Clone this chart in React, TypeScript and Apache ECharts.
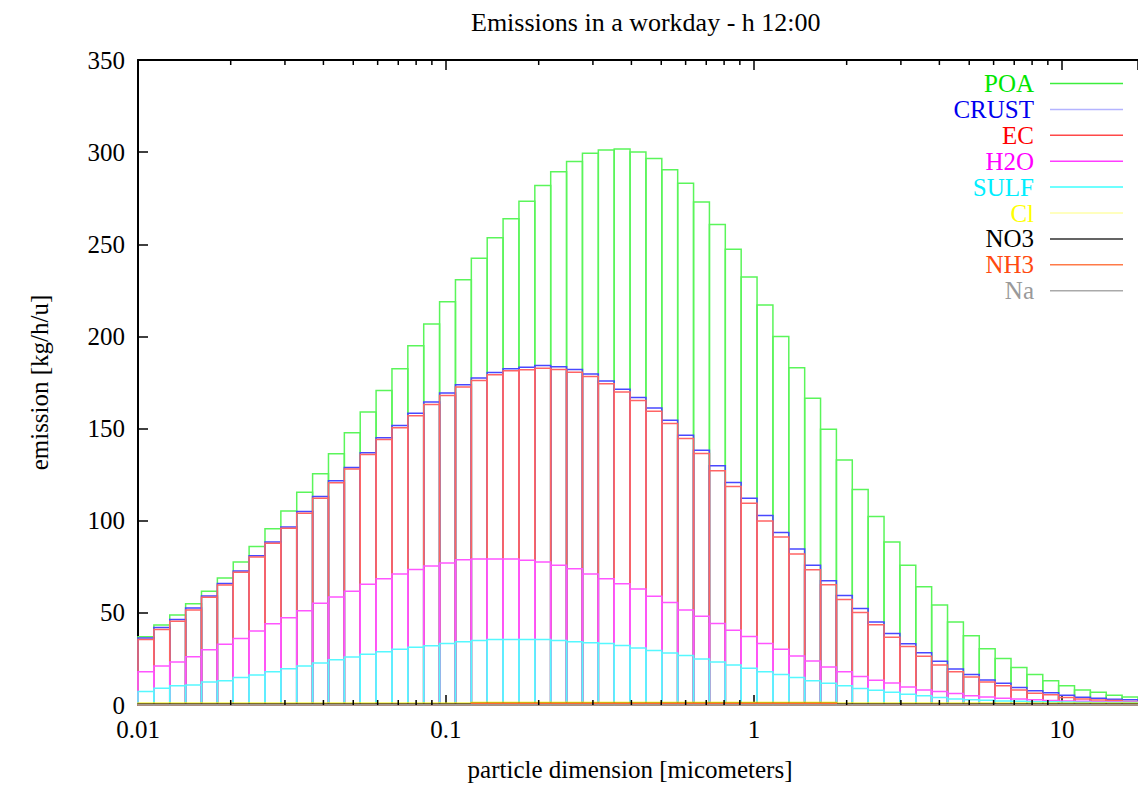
import React, { useEffect, useRef } from "react";
import * as echarts from "echarts";

// ---- axis / bins ----
const X_MIN = 0.01;
const X_MAX = 17.66;
const BIN_COUNT = 63;
const X_TICK_LABELS = ["0.01", "0.1", "1", "10"];
const Y_MIN = 0;
const Y_MAX = 350;
const Y_INTERVAL = 50;

// ---- cumulative levels (kg/h/u), one per bin ----
const POA = [
  37.0, 43.4, 48.8, 55.0, 61.7, 68.9, 77.6, 86.0, 95.6, 105.3,
  115.4, 125.5, 136.3, 147.7, 159.0, 170.7, 182.4, 195.0, 206.8, 218.8,
  230.7, 242.4, 253.6, 263.9, 273.4, 281.9, 289.3, 294.9, 299.4, 301.2,
  301.7, 300.1, 296.6, 290.5, 283.1, 272.9, 260.8, 247.3, 232.3, 217.0,
  199.9, 183.0, 166.5, 149.6, 132.9, 117.0, 102.3, 88.4, 75.9, 64.2,
  54.3, 45.1, 37.6, 30.5, 25.3, 20.4, 16.5, 13.1, 10.4, 8.2,
  6.9, 5.3, 4.4,
];
const CRUST = [
  36.3, 42.1, 46.4, 52.6, 59.2, 65.9, 72.7, 81.0, 88.5, 96.6,
  105.0, 113.1, 121.7, 128.9, 136.9, 145.0, 151.6, 158.3, 164.4, 169.3,
  173.8, 177.4, 180.4, 182.4, 183.3, 184.2, 183.5, 182.0, 179.6, 175.8,
  171.3, 166.9, 161.2, 154.5, 146.4, 138.3, 129.8, 120.8, 112.2, 102.8,
  93.6, 84.6, 75.8, 67.4, 59.4, 52.3, 45.1, 38.8, 33.2, 28.4,
  23.7, 19.6, 16.6, 13.6, 11.8, 9.5, 7.7, 6.6, 5.3, 4.2,
  3.7, 3.1, 2.8,
];
const EC = [
  35.6, 41.0, 45.5, 51.6, 58.5, 65.1, 72.0, 80.3, 87.8, 95.9,
  104.1, 112.2, 120.6, 128.0, 135.9, 144.1, 150.5, 156.9, 163.0, 168.0,
  172.5, 176.1, 179.2, 181.4, 181.9, 182.8, 182.1, 180.6, 178.3, 174.3,
  169.8, 165.3, 159.4, 152.7, 144.6, 136.5, 127.1, 118.5, 109.5, 99.9,
  91.1, 81.9, 73.4, 65.3, 57.2, 50.2, 43.5, 36.7, 31.8, 26.4,
  21.7, 18.1, 15.2, 12.5, 10.4, 8.2, 6.4, 5.5, 4.1, 3.2,
  2.7, 2.4, 1.9,
];
const H2O = [
  18.1, 21.2, 23.3, 26.2, 30.0, 32.9, 36.1, 40.1, 44.1, 47.3,
  51.2, 55.2, 58.6, 61.7, 65.5, 68.5, 71.1, 73.5, 75.4, 77.0,
  78.8, 79.2, 79.2, 79.2, 78.6, 77.6, 75.9, 73.9, 71.1, 68.5,
  65.8, 63.0, 59.0, 55.6, 51.6, 48.2, 44.2, 40.6, 37.2, 33.4,
  30.2, 26.6, 23.9, 20.6, 18.1, 15.4, 13.4, 12.0, 9.8, 8.2,
  7.3, 6.2, 5.0, 4.4, 3.7, 3.3, 2.9, 2.5, 2.2, 2.0,
  1.8, 1.7, 1.6,
];
const SULF = [
  7.3, 9.1, 10.4, 10.9, 12.5, 13.1, 14.9, 16.3, 18.1, 19.7,
  21.2, 22.8, 24.6, 26.1, 27.5, 28.9, 30.2, 31.3, 32.2, 33.4,
  34.3, 35.0, 35.6, 35.6, 35.6, 35.6, 35.0, 34.3, 33.8, 33.4,
  32.3, 30.9, 29.6, 28.2, 26.8, 25.0, 23.4, 21.7, 19.9, 18.1,
  16.6, 14.9, 13.1, 11.8, 10.4, 8.9, 8.0, 6.9, 5.8, 5.0,
  4.1, 3.3, 2.9, 2.6, 2.2, 2.0, 1.8, 1.7, 1.6, 1.5,
  1.4, 1.3, 1.3,
];
const CL = [
  1.0, 1.0, 1.0, 1.0, 1.0, 1.0, 1.0, 1.0, 1.0, 1.0,
  1.0, 1.0, 1.0, 1.0, 1.0, 1.0, 1.0, 1.0, 1.0, 1.0,
  1.0, 1.3, 1.3, 1.3, 1.3, 1.3, 1.3, 1.3, 1.3, 1.3,
  1.3, 1.3, 1.3, 1.3, 1.3, 1.3, 1.3, 1.3, 1.3, 1.3,
  1.3, 1.3, 1.3, 1.3, 0.9, 0.9, 0.9, 0.9, 0.9, 0.9,
  0.9, 0.9, 0.9, 0.9, 0.9, 0.9, 0.9, 0.9, 0.9, 0.9,
  0.9, 0.9, 0.9,
];
const NO3 = [
  0.5, 0.5, 0.5, 0.5, 0.5, 0.5, 0.5, 0.5, 0.5, 0.5,
  0.5, 0.5, 0.5, 0.5, 0.5, 0.5, 0.5, 0.5, 0.5, 0.5,
  0.5, 0.8, 0.8, 0.8, 0.8, 0.8, 0.8, 0.8, 0.8, 0.8,
  0.8, 0.8, 0.8, 0.8, 0.8, 0.8, 0.8, 0.8, 0.8, 0.8,
  0.8, 0.8, 0.8, 0.8, 0.5, 0.5, 0.5, 0.5, 0.5, 0.5,
  0.5, 0.5, 0.5, 0.5, 0.5, 0.5, 0.5, 0.5, 0.5, 0.5,
  0.5, 0.5, 0.5,
];
const NH3 = [
  0.2, 0.2, 0.2, 0.2, 0.2, 0.2, 0.2, 0.2, 0.2, 0.2,
  0.2, 0.2, 0.2, 0.2, 0.2, 0.2, 0.2, 0.2, 0.2, 0.2,
  0.2, 0.8, 0.8, 0.8, 0.8, 0.8, 0.8, 0.8, 0.8, 0.8,
  0.8, 0.8, 0.8, 0.8, 0.8, 0.8, 0.8, 0.8, 0.8, 0.8,
  0.8, 0.8, 0.8, 0.8, 0.2, 0.2, 0.2, 0.2, 0.2, 0.2,
  0.2, 0.2, 0.2, 0.2, 0.2, 0.2, 0.2, 0.2, 0.2, 0.2,
  0.2, 0.2, 0.2,
];
const NA = [
  0.1, 0.1, 0.1, 0.1, 0.1, 0.1, 0.1, 0.1, 0.1, 0.1,
  0.1, 0.1, 0.1, 0.1, 0.1, 0.1, 0.1, 0.1, 0.1, 0.1,
  0.1, 0.1, 0.1, 0.1, 0.1, 0.1, 0.1, 0.1, 0.1, 0.1,
  0.1, 0.1, 0.1, 0.1, 0.1, 0.1, 0.1, 0.1, 0.1, 0.1,
  0.1, 0.1, 0.1, 0.1, 0.1, 0.1, 0.1, 0.1, 0.1, 0.1,
  0.1, 0.1, 0.1, 0.1, 0.1, 0.1, 0.1, 0.1, 0.1, 0.1,
  0.1, 0.1, 0.1,
];

const SPECIES = [
  { name: "POA", values: POA, stroke: "#5af55a", text: "#00e600", sample: "#3cee3c" },
  { name: "CRUST", values: CRUST, stroke: "#4848ff", text: "#0000ee", sample: "#b4b4ff" },
  { name: "EC", values: EC, stroke: "#ff6464", text: "#ff0000", sample: "#ff4848" },
  { name: "H2O", values: H2O, stroke: "#ff55ff", text: "#ff00ff", sample: "#ff3cff" },
  { name: "SULF", values: SULF, stroke: "#55f8ff", text: "#00eeff", sample: "#3cffff" },
  { name: "Cl", values: CL, stroke: "#f4f400", text: "#ffff00", sample: "#ffffa8" },
  { name: "NO3", values: NO3, stroke: "#303030", text: "#000000", sample: "#303030" },
  { name: "NH3", values: NH3, stroke: "#ff6a30", text: "#ff4a10", sample: "#ff7a48" },
  { name: "Na", values: NA, stroke: "#9a9a9a", text: "#999999", sample: "#aaaaaa" },
];

const FONT = "Liberation Serif, Times New Roman, DejaVu Serif, serif";

export default function App() {
  const ref = useRef<HTMLDivElement>(null);

  useEffect(() => {
    if (!ref.current) return;
    const chart = echarts.init(ref.current, null, { renderer: "svg" });

    const ratio = Math.pow(X_MAX / X_MIN, 1 / BIN_COUNT);
    const edges: number[] = [];
    for (let k = 0; k <= BIN_COUNT; k++) edges.push(X_MIN * Math.pow(ratio, k));
    edges[BIN_COUNT] = X_MAX;

    const minorTicks: number[] = [];
    for (let d = -2; d <= 1; d++) {
      for (let m = 2; m <= 9; m++) {
        const v = m * Math.pow(10, d);
        if (v < X_MAX) minorTicks.push(v);
      }
    }

    const boxSeries = SPECIES.map((s) => ({
      type: "custom",
      name: s.name,
      xAxisIndex: 0,
      yAxisIndex: 0,
      encode: { x: [0, 1], y: 2 },
      data: s.values.map((v, i) => [edges[i], edges[i + 1], v]),
      renderItem: (params: any, api: any) => {
        const a = api.coord([api.value(0), api.value(2)]);
        const b = api.coord([api.value(1), 0]);
        return {
          type: "rect",
          shape: { x: a[0], y: a[1], width: b[0] - a[0], height: b[1] - a[1] },
          style: { fill: "none", stroke: s.stroke, lineWidth: 1.5 },
        };
      },
      silent: true,
    }));

    const tickSeries = {
      type: "custom",
      name: "minor ticks",
      xAxisIndex: 0,
      yAxisIndex: 0,
      encode: { x: 0 },
      data: minorTicks.map((v) => [v]),
      renderItem: (params: any, api: any) => {
        const bot = api.coord([api.value(0), Y_MIN]);
        const top = api.coord([api.value(0), Y_MAX]);
        const st = { stroke: "#000", lineWidth: 1.5 };
        return {
          type: "group",
          children: [
            { type: "line", shape: { x1: bot[0], y1: bot[1], x2: bot[0], y2: bot[1] - 5 }, style: st },
            { type: "line", shape: { x1: top[0], y1: top[1], x2: top[0], y2: top[1] + 5 }, style: st },
          ],
        };
      },
      silent: true,
      z: 5,
    };

    const legendTop = 83.5;
    const legendStep = 25.9;
    const legendGraphics: any[] = [];
    SPECIES.forEach((s, i) => {
      const y = legendTop + i * legendStep;
      legendGraphics.push({
        type: "text",
        x: 1034,
        y: y,
        style: {
          text: s.name,
          fill: s.text,
          fontFamily: FONT,
          fontSize: 25,
          textAlign: "right",
          textVerticalAlign: "middle",
        },
      });
      legendGraphics.push({
        type: "line",
        shape: { x1: 1050, y1: y, x2: 1123, y2: y },
        style: { stroke: s.sample, lineWidth: 1.5 },
      });
    });

    const logLabel = (v: number) => {
      const lg = Math.log10(v);
      if (Math.abs(lg - Math.round(lg)) > 1e-6) return "";
      const idx = Math.round(lg) + 2;
      return X_TICK_LABELS[idx] ?? "";
    };

    const option: any = {
      animation: false,
      backgroundColor: "#ffffff",
      textStyle: { fontFamily: FONT },
      title: {
        text: "Emissions in a workday - h 12:00",
        left: 466,
        top: 4,
        textStyle: { fontFamily: FONT, fontSize: 26, fontWeight: "normal", color: "#000" },
      },
      grid: { left: 138, right: 0, top: 60, bottom: 79.5, containLabel: false },
      xAxis: [
        {
          type: "log",
          logBase: 10,
          min: X_MIN,
          max: X_MAX,
          position: "bottom",
          name: "particle dimension [micometers]",
          nameLocation: "middle",
          nameGap: 52,
          nameTextStyle: { fontFamily: FONT, fontSize: 25, color: "#000", padding: [0, 16, 0, 0] },
          axisLine: { show: true, onZero: false, lineStyle: { color: "#000", width: 2 } },
          axisTick: { show: true, inside: true, length: 10, lineStyle: { color: "#000", width: 1.5 } },
          axisLabel: {
            show: true,
            margin: 12,
            fontFamily: FONT,
            fontSize: 25,
            color: "#000",
            formatter: logLabel,
            showMinLabel: true,
            showMaxLabel: false,
          },
          splitLine: { show: false },
        },
        {
          type: "log",
          logBase: 10,
          min: X_MIN,
          max: X_MAX,
          position: "top",
          axisLine: { show: true, onZero: false, lineStyle: { color: "#000", width: 2 } },
          axisTick: { show: true, inside: true, length: 10, lineStyle: { color: "#000", width: 1.5 } },
          axisLabel: { show: false },
          splitLine: { show: false },
        },
      ],
      yAxis: [
        {
          type: "value",
          min: Y_MIN,
          max: Y_MAX,
          interval: Y_INTERVAL,
          name: "emission [kg/h/u]",
          nameLocation: "middle",
          nameRotate: 90,
          nameGap: 86,
          nameTextStyle: { fontFamily: FONT, fontSize: 25, color: "#000" },
          axisLine: { show: true, onZero: false, lineStyle: { color: "#000", width: 2 } },
          axisTick: { show: true, inside: true, length: 10, lineStyle: { color: "#000", width: 1.5 } },
          axisLabel: { margin: 13, fontFamily: FONT, fontSize: 25, color: "#000" },
          splitLine: { show: false },
        },
      ],
      graphic: legendGraphics,
      series: [...boxSeries, tickSeries],
    };

    chart.setOption(option);
    return () => chart.dispose();
  }, []);

  return (
    <div
      ref={ref}
      style={{ position: "fixed", left: 0, top: 0, width: 1138, height: 787, background: "#fff" }}
    />
  );
}
